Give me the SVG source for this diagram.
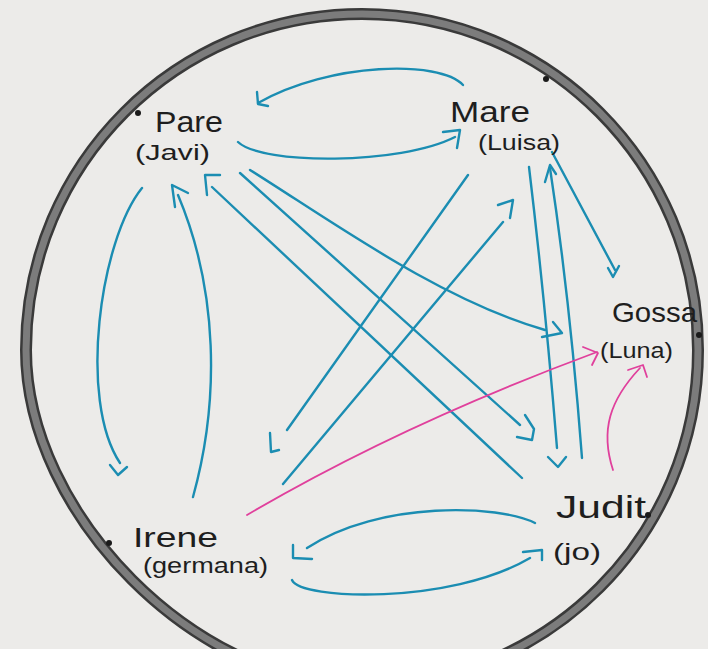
<svg xmlns="http://www.w3.org/2000/svg" width="708" height="649" viewBox="0 0 708 649">
  <style>
    .lbl { font-family: "Liberation Sans", "DejaVu Sans", sans-serif; fill: #1e1e1e; }
    .b { fill: none; stroke: #1b8db2; stroke-width: 2.4; stroke-linecap: round; stroke-linejoin: round; }
    .p { fill: none; stroke: #e0409c; stroke-width: 1.8; stroke-linecap: round; stroke-linejoin: round; }
    .dot { fill: #1a1a1a; }
    .ring-o { fill: none; stroke: #3a3a3a; stroke-width: 12; }
    .ring-i { fill: none; stroke: #7c7c7c; stroke-width: 7; }
  </style>
  <defs>
    <path id="ring" d="M362,14 C547.6,14 698,164.4 698,350 C698,535.6 547.6,686 362,686 C197,686 26,515 26,350 C26,164.4 176.4,14 362,14 Z"/>
  </defs>
  <rect x="0" y="0" width="708" height="649" fill="#ecebe9"/>
  <use href="#ring" class="ring-o"/>
  <use href="#ring" class="ring-i"/>
  <circle class="dot" cx="138" cy="113" r="3"/>
  <circle class="dot" cx="546" cy="79" r="3"/>
  <circle class="dot" cx="699" cy="335" r="3"/>
  <circle class="dot" cx="109" cy="543" r="3"/>
  <circle class="dot" cx="648" cy="515" r="3"/>

  <g id="connectors">
    <!-- Mare -> Pare -->
    <path class="b" d="M463,85 C440,60 330,62 258,103"/>
    <path class="b" d="M257,92 L258,104 L268,106"/>
    <!-- Pare -> Mare -->
    <path class="b" d="M238,142 C262,165 400,165 455,137"/>
    <path class="b" d="M443,132 L460,130 L457,148"/>
    <!-- Pare -> Irene -->
    <path class="b" d="M142,188 C100,240 78,400 120,463"/>
    <path class="b" d="M110,465 L118,475 L127,467"/>
    <!-- Irene -> Pare -->
    <path class="b" d="M193,497 C220,400 218,290 178,195"/>
    <path class="b" d="M175,207 L172,185 L188,193"/>
    <!-- Judit -> Pare -->
    <path class="b" d="M522,478 L212,187"/>
    <path class="b" d="M207,195 L205,175 L220,175"/>
    <!-- Pare -> Judit -->
    <path class="b" d="M240,173 L520,425"/>
    <path class="b" d="M525,415 L534,429 L532,440 L517,437"/>
    <!-- Pare -> Gossa -->
    <path class="b" d="M250,170 C330,220 440,300 545,330"/>
    <path class="b" d="M553,322 L562,333 L542,337"/>
    <!-- Mare -> Irene -->
    <path class="b" d="M468,175 L287,430"/>
    <path class="b" d="M270,433 L271,452 L279,450"/>
    <!-- Irene -> Mare -->
    <path class="b" d="M283,484 L503,222"/>
    <path class="b" d="M498,205 L513,200 L510,218"/>
    <!-- Mare -> Judit -->
    <path class="b" d="M529,167 Q545,300 557,448"/>
    <path class="b" d="M548,457 L558,467 L566,457"/>
    <!-- Judit -> Mare -->
    <path class="b" d="M582,458 Q570,300 550,168"/>
    <path class="b" d="M545,182 L550,165 L556,174"/>
    <!-- Mare -> Gossa -->
    <path class="b" d="M552,152 L615,270"/>
    <path class="b" d="M608,268 L613,277 L619,266"/>
    <!-- Judit -> Irene -->
    <path class="b" d="M535,523 C500,505 380,500 307,548"/>
    <path class="b" d="M293,545 L293,558 L312,559"/>
    <!-- Irene -> Judit -->
    <path class="b" d="M292,580 C300,600 450,605 530,558"/>
    <path class="b" d="M523,552 L542,550 L542,560"/>
    <!-- Irene -> Gossa (pink) -->
    <path class="p" d="M247,515 Q400,425 597,352"/>
    <path class="p" d="M583,347 L598,353 L592,365"/>
    <!-- Judit -> Gossa (pink) -->
    <path class="p" d="M613,470 C600,430 610,400 640,368"/>
    <path class="p" d="M628,370 L643,365 L647,377"/>
  </g>

  <g id="node-pare">
    <text class="lbl" x="155" y="132" font-size="30" textLength="68" lengthAdjust="spacingAndGlyphs">Pare</text>
    <text class="lbl" x="135" y="160" font-size="22" textLength="75" lengthAdjust="spacingAndGlyphs">(Javi)</text>
  </g>
  <g id="node-mare">
    <text class="lbl" x="450" y="122" font-size="30" textLength="80" lengthAdjust="spacingAndGlyphs">Mare</text>
    <text class="lbl" x="478" y="150" font-size="22" textLength="82" lengthAdjust="spacingAndGlyphs">(Luisa)</text>
  </g>
  <g id="node-gossa">
    <text class="lbl" x="612" y="322" font-size="28" textLength="85" lengthAdjust="spacingAndGlyphs">Gossa</text>
    <text class="lbl" x="600" y="358" font-size="22" textLength="73" lengthAdjust="spacingAndGlyphs">(Luna)</text>
  </g>
  <g id="node-irene">
    <text class="lbl" x="133" y="547" font-size="28" textLength="85" lengthAdjust="spacingAndGlyphs">Irene</text>
    <text class="lbl" x="143" y="573" font-size="22" textLength="125" lengthAdjust="spacingAndGlyphs">(germana)</text>
  </g>
  <g id="node-judit">
    <text class="lbl" x="556" y="518" font-size="32" textLength="90" lengthAdjust="spacingAndGlyphs">Judit</text>
    <text class="lbl" x="553" y="560" font-size="24" textLength="48" lengthAdjust="spacingAndGlyphs">(jo)</text>
  </g>
</svg>
